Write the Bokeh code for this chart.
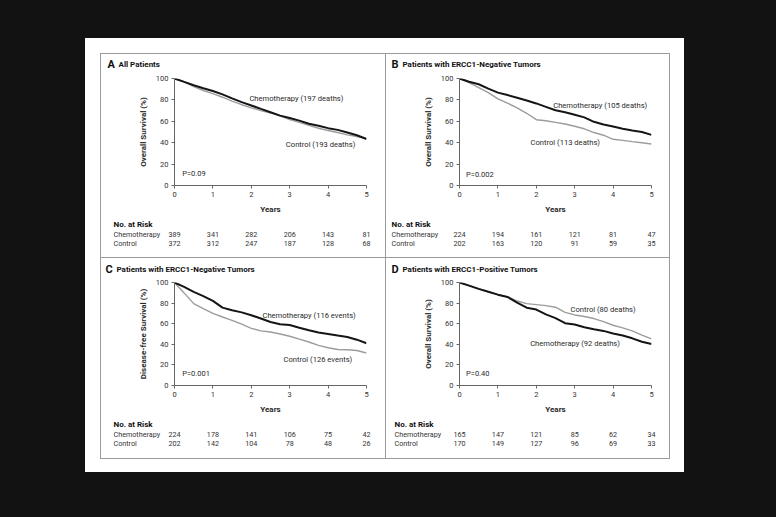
import re
from bokeh.plotting import figure
from bokeh.models import Range1d, Label, Spacer, FixedTicker
from bokeh.layouts import column, row
from bokeh.embed import file_html
from bokeh.resources import INLINE

# ---------------- data ----------------
years = [0, 0.25, 0.5, 0.75, 1, 1.25, 1.5, 1.75, 2, 2.25, 2.5, 2.75, 3, 3.25, 3.5, 3.75, 4, 4.25, 4.5, 4.75, 5]

chemo_A = [100, 96.8, 93.7, 90.9, 88.3, 85.2, 81.4, 77.9, 74.8, 71.6, 68.5, 65.3, 63.1, 60.6, 57.7, 55.8, 53.6, 52.0, 49.5, 47.0, 43.5]
ctrl_A = [100, 97.0, 92.4, 88.8, 85.8, 82.5, 78.9, 75.5, 72.6, 70.0, 67.8, 65.0, 61.5, 59.0, 56.2, 53.5, 51.4, 49.5, 47.3, 45.8, 43.8]

chemo_B = [100, 97.0, 94.6, 90.5, 86.8, 84.5, 82.0, 79.5, 76.7, 73.5, 70.3, 68.5, 66.2, 63.7, 59.5, 57.0, 55.2, 53.0, 51.4, 50.0, 47.3]
ctrl_B = [100, 96.2, 91.5, 86.8, 81.0, 77.0, 72.6, 67.5, 61.5, 60.5, 59.0, 57.5, 55.4, 53.0, 49.5, 47.0, 43.2, 42.2, 41.0, 40.0, 38.8]

chemo_C = [100, 95.8, 90.9, 86.7, 82.1, 75.6, 73.0, 71.0, 68.2, 65.0, 61.7, 59.5, 58.8, 56.0, 53.6, 51.5, 50.0, 48.5, 47.1, 44.5, 41.0]
ctrl_C = [100, 89.9, 79.5, 74.7, 70.0, 66.5, 63.3, 59.5, 55.5, 53.0, 51.9, 50.0, 47.8, 45.0, 42.2, 39.0, 36.7, 35.0, 34.7, 34.0, 31.6]

chemo_D = [100, 97.0, 93.8, 91.0, 88.2, 86.0, 80.5, 75.5, 73.7, 69.0, 65.4, 60.5, 59.2, 56.5, 54.6, 53.0, 50.4, 48.5, 45.8, 42.5, 40.2]
ctrl_D = [100, 97.0, 93.8, 91.0, 88.2, 86.0, 82.0, 79.5, 78.5, 77.5, 76.0, 71.0, 68.5, 67.0, 65.0, 62.0, 58.5, 56.0, 53.0, 49.0, 45.2]

risk_years = [0, 1, 2, 3, 4, 5]
risk_chemo_A = [389, 341, 282, 206, 143, 81]
risk_ctrl_A = [372, 312, 247, 187, 128, 68]
risk_chemo_B = [224, 194, 161, 121, 81, 47]
risk_ctrl_B = [202, 163, 120, 91, 59, 35]
risk_chemo_C = [224, 178, 141, 106, 75, 42]
risk_ctrl_C = [202, 142, 104, 78, 48, 26]
risk_chemo_D = [165, 147, 121, 85, 62, 34]
risk_ctrl_D = [170, 149, 127, 96, 69, 33]

x_ticks = [0, 1, 2, 3, 4, 5]
y_ticks = [0, 20, 40, 60, 80, 100]

# ---------------- style ----------------
FONT = "Roboto"
TXT = "#2a2a2a"
GRAY_LINE = "#9a9a9a"
BG = "#121212"
CHEMO_COLOR = "#151515"
CTRL_COLOR = "#9c9c9c"

FRAME_L = 73
FRAME_W = 192
TITLE_H = 18


def bare_fig(w, h, xr, yr):
    f = figure(width=w, height=h, x_range=xr, y_range=yr, output_backend="svg",
               toolbar_location=None, title=None, x_axis_location=None, y_axis_location=None,
               min_border_left=0, min_border_right=0, min_border_top=0, min_border_bottom=0,
               frame_align=False)
    f.outline_line_color = None
    f.xgrid.visible = False
    f.ygrid.visible = False
    f.background_fill_color = "white"
    f.border_fill_color = "white"
    return f


def add_text(f, x, y, text, size="7.5px", bold=False, align="left", color=TXT):
    f.add_layout(Label(x=x, y=y, text=text, text_font=FONT, text_font_size=size,
                       text_font_style="bold" if bold else "normal",
                       text_color=color, text_align=align, text_baseline="middle"))


def panel(w, h, fh, years_y, letter, title, ylabel, chemo, ctrl, chemo_txt, ctrl_txt, chemo_pos, ctrl_pos,
          pval, pval_pos, r_chemo, r_ctrl, letter_x, risk_x, title_y, risk_rows):
    plot_top = 24 - TITLE_H
    plot_h = 24 - TITLE_H + fh + years_y
    table_h = h - TITLE_H - plot_h

    # ---- title strip ----
    t = bare_fig(w, TITLE_H, Range1d(0, w), Range1d(TITLE_H, 0))
    add_text(t, letter_x, title_y, letter, size="11px", bold=True, color="#111111")
    add_text(t, letter_x + 11, title_y, title, size="8px", bold=True, color="#111111")

    # ---- survival plot ----
    p = figure(width=w, height=plot_h, x_range=Range1d(0, 5), y_range=Range1d(0, 100),
               output_backend="svg", toolbar_location=None, title=None,
               min_border_left=FRAME_L, min_border_right=w - FRAME_L - FRAME_W,
               min_border_top=plot_top, min_border_bottom=plot_h - plot_top - fh,
               frame_align=False)
    p.outline_line_color = None
    p.background_fill_color = "white"
    p.border_fill_color = "white"
    p.xgrid.visible = False
    p.ygrid.visible = False

    for a in (p.xaxis[0], p.yaxis[0]):
        a.axis_line_color = "#666666"
        a.major_tick_line_color = "#666666"
        a.minor_tick_line_color = None
        a.major_tick_in = 0
        a.major_tick_out = 3
        a.major_label_text_font = FONT
        a.major_label_text_font_size = "7.5px"
        a.major_label_text_color = "#333333"
        a.major_label_standoff = 3
        a.axis_label_text_font = FONT
        a.axis_label_text_font_size = "8px"
        a.axis_label_text_font_style = "bold"
        a.axis_label_text_color = TXT
    p.xaxis.ticker = FixedTicker(ticks=x_ticks)
    p.yaxis.ticker = FixedTicker(ticks=y_ticks)
    p.xaxis.axis_label = "Years"
    p.yaxis.axis_label = ylabel
    p.xaxis.axis_label_standoff = 5
    p.yaxis.axis_label_standoff = 5

    p.line(years, ctrl, line_color=CTRL_COLOR, line_width=1.4)
    p.line(years, chemo, line_color=CHEMO_COLOR, line_width=2)

    add_text(p, chemo_pos[0], chemo_pos[1], chemo_txt, size="7.6px")
    add_text(p, ctrl_pos[0], ctrl_pos[1], ctrl_txt, size="7.6px")
    add_text(p, pval_pos[0], pval_pos[1], pval, size="7.5px")

    # ---- number-at-risk table (x in years, y in pixels from top) ----
    x0 = -FRAME_L / FRAME_W * 5
    x1 = (w - FRAME_L) / FRAME_W * 5
    tb = bare_fig(w, table_h, Range1d(x0, x1), Range1d(table_h, 0))
    rx = (risk_x - FRAME_L) / FRAME_W * 5
    add_text(tb, rx, risk_rows[0], "No. at Risk", size="8px", bold=True, color="#111111")
    add_text(tb, rx, risk_rows[1], "Chemotherapy", size="7.2px", color="#333333")
    add_text(tb, rx, risk_rows[2], "Control", size="7.2px", color="#333333")
    for yr, n in zip(risk_years, r_chemo):
        add_text(tb, yr, risk_rows[1], str(n), size="7.2px", align="center", color="#333333")
    for yr, n in zip(risk_years, r_ctrl):
        add_text(tb, yr, risk_rows[2], str(n), size="7.2px", align="center", color="#333333")

    return column(t, p, tb)


pA = panel(284, 203, 107, 31, "A", "All Patients", "Overall Survival (%)", chemo_A, ctrl_A,
           "Chemotherapy (197 deaths)", "Control (193 deaths)", (1.95, 81.7), (2.9, 38.7),
           "P=0.09", (0.2, 11), risk_chemo_A, risk_ctrl_A, 6, 12, 10, [8, 18, 27])
pB = panel(283, 203, 107, 31, "B", "Patients with ERCC1-Negative Tumors", "Overall Survival (%)", chemo_B, ctrl_B,
           "Chemotherapy (105 deaths)", "Control (113 deaths)", (2.44, 74.4), (1.85, 40.6),
           "P=0.002", (0.17, 10.5), risk_chemo_B, risk_ctrl_B, 5, 5, 10, [8, 18, 27])
pC = panel(284, 200, 103, 31, "C", "Patients with ERCC1-Negative Tumors", "Disease-free Survival (%)", chemo_C, ctrl_C,
           "Chemotherapy (116 events)", "Control (126 events)", (2.29, 68.2), (2.84, 25.3),
           "P=0.001", (0.2, 11.7), risk_chemo_C, risk_ctrl_C, 4, 12, 11, [8, 18, 27])
pD = panel(283, 200, 103, 31, "D", "Patients with ERCC1-Positive Tumors", "Overall Survival (%)", chemo_D, ctrl_D,
           "Control (80 deaths)", "Chemotherapy (92 deaths)", (2.89, 73.8), (1.84, 40.8),
           "P=0.40", (0.17, 11.8), risk_chemo_D, risk_ctrl_D, 5, 8, 11, [8, 18, 27])


def sp(w, h, c):
    return Spacer(width=w, height=h, styles={"background-color": c})


frame = column(
    sp(570, 1, GRAY_LINE),
    row(sp(1, 203, GRAY_LINE), pA, sp(1, 203, GRAY_LINE), pB, sp(1, 203, GRAY_LINE)),
    sp(570, 1, GRAY_LINE),
    row(sp(1, 200, GRAY_LINE), pC, sp(1, 200, GRAY_LINE), pD, sp(1, 200, GRAY_LINE)),
    sp(570, 1, GRAY_LINE),
)

paper = column(
    sp(599, 15, "white"),
    row(sp(15, 406, "white"), frame, sp(14, 406, "white")),
    sp(599, 13, "white"),
)

layout = column(
    sp(776, 38, BG),
    row(sp(85, 434, BG), paper, sp(92, 434, BG)),
    sp(776, 45, BG),
)

html = file_html(layout, INLINE)
html = re.sub(r"<body([^>]*)>", r'<body\1 style="background-color:%s;">' % BG, html, count=1)
open("out.html", "w").write(html)
